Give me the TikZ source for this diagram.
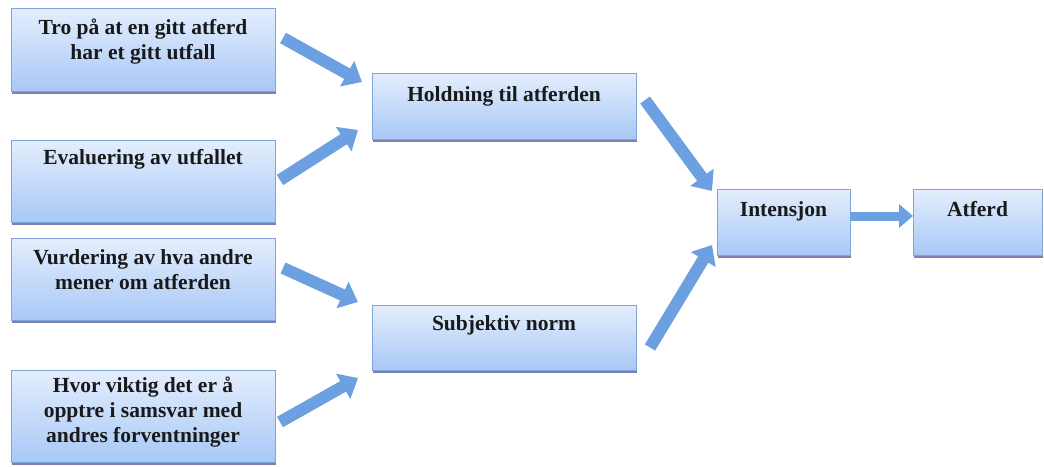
\documentclass[tikz,border=0pt]{standalone}
\usepackage{fontspec}
\setmainfont{Liberation Serif}
\usetikzlibrary{arrows.meta,shadows,calc}
\definecolor{boxtop}{RGB}{228,238,253}
\definecolor{boxbot}{RGB}{168,200,246}
\definecolor{boxline}{RGB}{125,165,218}
\definecolor{arrowblue}{RGB}{108,160,224}
\tikzset{
  box/.style={rectangle, anchor=north west, inner sep=0pt, outer sep=0pt,
    draw=boxline, line width=0.8pt, top color=boxtop, bottom color=boxbot,
    drop shadow={shadow xshift=1pt, shadow yshift=-3pt, fill=black!60!blue, opacity=0.5}},
  lbl/.style={anchor=north, inner sep=0pt, align=center,
    font=\fontsize{21.5}{25}\selectfont\bfseries, text=black!90},
  blk/.style={draw=arrowblue, line width=12pt,
    -{Triangle[width=28pt,length=17pt]}, arrowblue},
  blkh/.style={draw=arrowblue, line width=9pt,
    -{Triangle[width=23pt,length=14pt]}, arrowblue}
}
\begin{document}
\begin{tikzpicture}[x=1pt,y=-1pt]
\useasboundingbox (0,0) rectangle (1044,466);
% boxes
\node[box, minimum width=264pt, minimum height=83pt] (b1) at (11,8) {};
\node[box, minimum width=264pt, minimum height=82pt] (b2) at (11,140) {};
\node[box, minimum width=264pt, minimum height=82pt] (b3) at (11,238) {};
\node[box, minimum width=264pt, minimum height=92pt] (b4) at (11,370) {};
\node[box, minimum width=264pt, minimum height=66pt] (hold) at (372,73) {};
\node[box, minimum width=264pt, minimum height=65pt] (subj) at (372,305) {};
\node[box, minimum width=133pt, minimum height=66pt] (int) at (717,189) {};
\node[box, minimum width=129pt, minimum height=66pt] (atf) at (913,189) {};
% labels
\node[lbl] (t1) at ($(b1.north)+(0,11)$) {Tro på at en gitt atferd\\har et gitt utfall};
\node[lbl] (t2) at ($(b2.north)+(0,9)$) {Evaluering av utfallet};
\node[lbl] (t3) at ($(b3.north)+(0,11)$) {Vurdering av hva andre\\mener om atferden};
\node[lbl] (t4) at ($(b4.north)+(0,7)$) {Hvor viktig det er å\\opptre i samsvar med\\andres forventninger};
\node[lbl] (th) at ($(hold.north)+(0,13)$) {Holdning til atferden};
\node[lbl] (ts) at ($(subj.north)+(0,10)$) {Subjektiv norm};
\node[lbl] (ti) at ($(int.north)+(0,12)$) {Intensjon};
\node[lbl] (ta) at ($(atf.north)+(0,12)$) {Atferd};
% arrows
\draw[blk] ($(b1.north east)+(8,30)$) -- ($(hold.north west)+(-10,9)$);
\draw[blk] ($(b2.east)+(5,-1)$) -- ($(hold.south west)+(-14,-9)$);
\draw[blk] ($(b3.north east)+(8,30)$) -- ($(subj.north west)+(-14,-3)$);
\draw[blk] ($(b4.east)+(5,6)$) -- ($(subj.south west)+(-14,8)$);
\draw[blk] ($(hold.north east)+(9,27)$) -- ($(int.north west)+(-5,2)$);
\draw[blk] ($(subj.east)+(14,10)$) -- ($(int.south west)+(-5,-10)$);
\draw[blkh] ($(int.east)+(0,-6)$) -- ($(atf.west)+(0,-6)$);
\end{tikzpicture}
\end{document}
